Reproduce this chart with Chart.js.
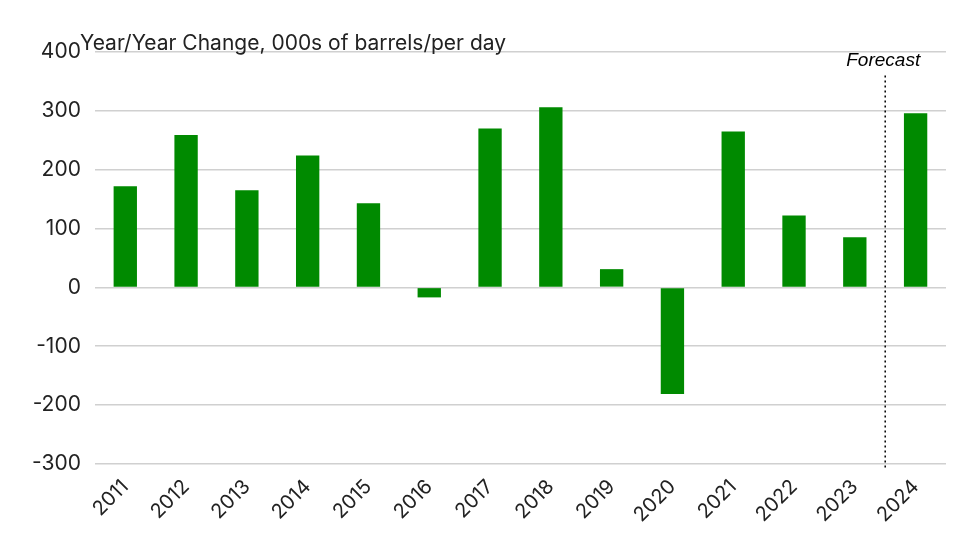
<!DOCTYPE html>
<html>
<head>
<meta charset="utf-8">
<script src="https://cdn.jsdelivr.net/npm/chart.js@4"></script>
<style>
  body { margin: 0; background: #fff; }
</style>
</head>
<body>
<canvas id="chartChange" width="960" height="540" style="width:960px;height:540px"></canvas>
<script>
const years = ['2011', '2012', '2013', '2014', '2015', '2016', '2017', '2018', '2019', '2020', '2021', '2022', '2023', '2024'];
const changes = [172, 259, 165, 224, 143, -17, 270, 306, 31, -181, 265, 122, 85, 296];
const yTicks = [400, 300, 200, 100, 0, -100, -200, -300];

/* titulo y linea punteada del pronostico */
const forecastLine = {
  id: 'forecastLine',
  afterDraw(chart) {
    const x = chart.scales.x;
    const y = chart.scales.y;
    const px = (x.getPixelForValue(12) + x.getPixelForValue(13)) / 2;
    const ctx = chart.ctx;
    ctx.save();
    ctx.fillStyle = '#222';
    ctx.font = '21px Inter';
    ctx.textAlign = 'left';
    ctx.fillText('Year/Year Change, 000s of barrels/per day', 80, 50);
    ctx.strokeStyle = '#000';
    ctx.lineWidth = 1.5;
    ctx.setLineDash([2, 3]);
    ctx.beginPath();
    ctx.moveTo(px, y.getPixelForValue(360));
    ctx.lineTo(px, y.getPixelForValue(-310));
    ctx.stroke();
    ctx.setLineDash([]);
    ctx.fillStyle = '#000';
    ctx.font = 'italic 19px "Liberation Sans", Arial';
    ctx.textAlign = 'center';
    ctx.fillText('Forecast', px - 2, y.getPixelForValue(400) + 14);
    ctx.restore();
  },
};

const ctx = document.getElementById('chartChange').getContext('2d');
const myChart = new Chart(ctx, {
  type: 'bar',
  data: {
    labels: years,
    datasets: [
      {
        data: changes,
        backgroundColor: '#008a00',
        categoryPercentage: 0.8,
        barPercentage: 0.48,
      },
    ],
  },
  options: {
    responsive: false,
    animation: false,
    layout: { padding: { left: 18, right: 14, top: 52, bottom: 10 } },
    scales: {
      y: {
        min: -300,
        max: 400,
        afterBuildTicks: (axis) => {
          axis.ticks = yTicks.map((v) => ({ value: v }));
        },
        border: { display: false },
        grid: { color: '#d0d0d0', lineWidth: 1.5, drawTicks: false },
        ticks: { color: '#222', padding: 14, font: { size: 21, family: 'Inter' } },
      },
      x: {
        grid: { display: false },
        border: { display: false },
        ticks: {
          color: '#222',
          maxRotation: 45,
          minRotation: 45,
          font: { size: 20, family: 'Inter' },
        },
      },
    },
    plugins: {
      legend: { display: false },
      tooltip: { enabled: false },
    },
  },
  plugins: [forecastLine],
});
</script>
</body>
</html>
